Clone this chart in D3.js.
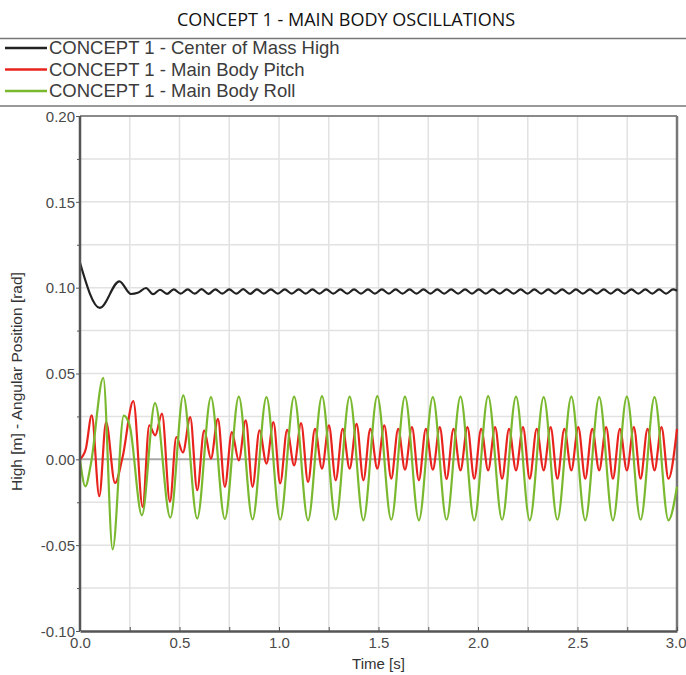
<!DOCTYPE html>
<html>
<head>
<meta charset="utf-8">
<script src="https://cdn.jsdelivr.net/npm/d3@7"></script>
<style>
  body { margin: 0; background: #fff; }
  svg { display: block; }
  .axis text { font-family: "Liberation Sans", Arial, sans-serif; font-size: 15px; fill: #4a4a4a; }
  .axis path, .axis line { stroke: #555; }
</style>
</head>
<body>
<div id="graph"></div>
<script>

// series names, in legend order
const seriesNames = ["CONCEPT 1 - Center of Mass High", "CONCEPT 1 - Main Body Pitch", "CONCEPT 1 - Main Body Roll"];
const seriesColors = ["#222222", "#e8231d", "#7ab92f"];

// [time (s), value]
const centerOfMassHigh = [
  [0, 0.1145], [0.100, 0.0882], [0.198, 0.1037], [0.256, 0.0963], [0.290, 0.0970],
  [0.332, 0.0998], [0.367, 0.0962], [0.402, 0.0988], [0.437, 0.0964],
  [0.471, 0.0990], [0.506, 0.0965], [0.541, 0.0990], [0.576, 0.0965], [0.611, 0.0991], [0.646, 0.0964],
  [0.680, 0.0990], [0.715, 0.0965], [0.750, 0.0990], [0.785, 0.0965], [0.820, 0.0991], [0.855, 0.0964],
  [0.889, 0.0990], [0.924, 0.0965], [0.959, 0.0990], [0.994, 0.0965], [1.029, 0.0990], [1.064, 0.0965],
  [1.099, 0.0990], [1.134, 0.0965], [1.168, 0.0990], [1.203, 0.0965], [1.238, 0.0990], [1.273, 0.0965],
  [1.308, 0.0990], [1.343, 0.0965], [1.377, 0.0990], [1.412, 0.0965], [1.447, 0.0990], [1.482, 0.0965],
  [1.517, 0.0990], [1.552, 0.0965], [1.586, 0.0990], [1.621, 0.0965], [1.656, 0.0990], [1.691, 0.0965],
  [1.726, 0.0990], [1.761, 0.0965], [1.795, 0.0990], [1.830, 0.0965], [1.865, 0.0990], [1.900, 0.0965],
  [1.935, 0.0990], [1.970, 0.0965], [2.004, 0.0990], [2.039, 0.0965], [2.074, 0.0990], [2.109, 0.0965],
  [2.144, 0.0990], [2.179, 0.0965], [2.214, 0.0990], [2.249, 0.0965], [2.283, 0.0990], [2.318, 0.0965],
  [2.353, 0.0990], [2.388, 0.0965], [2.423, 0.0990], [2.458, 0.0965], [2.492, 0.0990], [2.527, 0.0965],
  [2.562, 0.0990], [2.597, 0.0965], [2.632, 0.0990], [2.667, 0.0965], [2.701, 0.0990], [2.736, 0.0965],
  [2.771, 0.0990], [2.806, 0.0965], [2.841, 0.0990], [2.876, 0.0965], [2.910, 0.0990], [2.945, 0.0965],
  [2.980, 0.0990], [3.0, 0.0982]
];

const mainBodyPitch = [
  [0, 0], [0.029, 0.006], [0.059, 0.0256], [0.097, -0.0215], [0.131, 0.0217], [0.176, -0.0138],
  [0.214, 0.0013], [0.268, 0.0339], [0.315, -0.0277], [0.348, 0.0198], [0.378, 0.014], [0.412, 0.0266],
  [0.452, -0.0248], [0.484, 0.013],
  [0.517, 0.004], [0.554, 0.0246], [0.589, -0.018], [0.624, 0.0169],
  [0.658, 0.0004], [0.693, 0.0236], [0.728, -0.016], [0.763, 0.0159],
  [0.798, -0.0006], [0.833, 0.0227], [0.867, -0.016], [0.902, 0.0169],
  [0.937, -0.0025], [0.972, 0.0217], [1.006, -0.014], [1.041, 0.0172],
  [1.076, -0.0035], [1.111, 0.0211], [1.146, -0.0132], [1.181, 0.0178],
  [1.216, -0.0054], [1.251, 0.0198], [1.285, -0.0122], [1.320, 0.0178],
  [1.355, -0.0054], [1.390, 0.0207], [1.424, -0.0122], [1.459, 0.0178],
  [1.494, -0.0054], [1.529, 0.0198], [1.564, -0.0112], [1.599, 0.0178],
  [1.633, -0.006], [1.668, 0.0188], [1.703, -0.0122], [1.738, 0.0178],
  [1.773, -0.006], [1.808, 0.0188], [1.842, -0.0115], [1.877, 0.0178],
  [1.912, -0.0064], [1.947, 0.0188], [1.981, -0.0112], [2.016, 0.0178],
  [2.051, -0.0064], [2.086, 0.0188], [2.121, -0.0112], [2.156, 0.0178],
  [2.191, -0.0064], [2.226, 0.0188], [2.260, -0.0112], [2.295, 0.0178],
  [2.330, -0.0064], [2.365, 0.0188], [2.399, -0.0112], [2.434, 0.0178],
  [2.469, -0.0064], [2.504, 0.0188], [2.539, -0.0112], [2.574, 0.0178],
  [2.609, -0.0064], [2.644, 0.0188], [2.678, -0.0112], [2.713, 0.0178],
  [2.748, -0.0064], [2.783, 0.0188], [2.817, -0.0112], [2.852, 0.0178],
  [2.887, -0.0064], [2.922, 0.0188], [2.957, -0.0112], [3.0, 0.0178]
];

const mainBodyRoll = [
  [0, 0], [0.027, -0.0157], [0.055, -0.0025], [0.117, 0.0475], [0.164, -0.0525], [0.220, 0.0255],
  [0.250, 0.0195], [0.311, -0.0326], [0.377, 0.0327], [0.454, -0.034],
  [0.519, 0.0372], [0.589, -0.0345], [0.658, 0.0362], [0.728, -0.0348], [0.798, 0.0365], [0.867, -0.035],
  [0.937, 0.0362], [1.006, -0.0352], [1.076, 0.0365], [1.146, -0.0355], [1.216, 0.0368], [1.285, -0.0352],
  [1.355, 0.0365], [1.424, -0.0355], [1.494, 0.0368], [1.564, -0.0352], [1.633, 0.0365], [1.703, -0.0355],
  [1.773, 0.0362], [1.842, -0.0352], [1.912, 0.0365], [1.981, -0.0355], [2.051, 0.0368], [2.121, -0.0352],
  [2.191, 0.0365], [2.260, -0.0355], [2.330, 0.0362], [2.399, -0.0352], [2.469, 0.0365], [2.539, -0.0355],
  [2.609, 0.0362], [2.678, -0.0355], [2.748, 0.0365], [2.817, -0.0352], [2.887, 0.0362], [2.957, -0.0355],
  [3.0, -0.016]
];

const xTicks = [0, 0.5, 1.0, 1.5, 2.0, 2.5, 3.0];
const xMinorTicks = [0.25, 0.75, 1.25, 1.75, 2.25, 2.75];
const yTicks = [-0.10, -0.05, 0.00, 0.05, 0.10, 0.15, 0.20];
const yMinorTicks = [-0.075, -0.025, 0.025, 0.075, 0.125, 0.175];

const title = "CONCEPT 1 - MAIN BODY OSCILLATIONS";
const xTitle = "Time [s]";
const yTitle = "High [m] - Angular Position [rad]";

let width = 686, height = 675;
let margin = {top: 116, right: 9, bottom: 44, left: 80};

let svg = d3.select("#graph")
      .append("svg")
      .attr("width", width)
      .attr("height", height);

let x = d3.scaleLinear().domain([0, 3]).range([margin.left, width - margin.right]),
    y = d3.scaleLinear().domain([-0.1, 0.2]).range([height - margin.bottom, margin.top]);

// plain hyphen instead of the unicode minus d3.format gives
const fmt2 = function(d) { return d3.format(".2f")(d).replace("\u2212", "-"); };

// title and legend block
svg.append("text")
      .attr("x", 346)
      .attr("y", 26)
      .attr("text-anchor", "middle")
      .style("font-family", "'Open Sans', 'Noto Sans', sans-serif")
      .style("font-size", "18px")
      .style("fill", "#111")
      .text(title);

svg.append("line")
      .attr("x1", 0).attr("x2", width)
      .attr("y1", 38.5).attr("y2", 38.5)
      .attr("stroke", "#777").attr("stroke-width", 1.5);

svg.append("line")
      .attr("x1", 0).attr("x2", width)
      .attr("y1", 106).attr("y2", 106)
      .attr("stroke", "#777").attr("stroke-width", 1.5);

let legend = svg.append("g").attr("class", "legend");

seriesNames.forEach(function(name, i) {
      let ly = 48 + i * 21.5;
      legend.append("line")
            .attr("x1", 5).attr("x2", 47)
            .attr("y1", ly).attr("y2", ly)
            .attr("stroke", seriesColors[i])
            .attr("stroke-width", 2.5);
      legend.append("text")
            .attr("x", 49)
            .attr("y", ly + 6)
            .style("font-family", "'Liberation Sans', Arial, sans-serif")
            .style("font-size", "18.5px")
            .style("fill", "#3c3c3c")
            .text(name);
});

// grid
let grid = svg.append("g").attr("class", "grid");

grid.selectAll(".vgrid")
      .data(xTicks.concat(xMinorTicks).filter(function(d) { return d > 0 && d < 3; }))
      .enter().append("line")
      .attr("x1", function(d) { return x(d); })
      .attr("x2", function(d) { return x(d); })
      .attr("y1", y(0.2))
      .attr("y2", y(-0.1))
      .attr("stroke", "#e2e2e2")
      .attr("stroke-width", 1.5);

grid.selectAll(".hgrid")
      .data(yTicks.concat(yMinorTicks).filter(function(d) { return d > -0.1 && d < 0.2; }))
      .enter().append("line")
      .attr("x1", x(0))
      .attr("x2", x(3))
      .attr("y1", function(d) { return y(d); })
      .attr("y2", function(d) { return y(d); })
      .attr("stroke", function(d) { return Math.abs(d) < 1e-9 ? "#a8a8a8" : "#e2e2e2"; })
      .attr("stroke-width", function(d) { return Math.abs(d) < 1e-9 ? 2 : 1.5; });

// frame: top and right
svg.append("line")
      .attr("x1", x(0)).attr("x2", x(3))
      .attr("y1", y(0.2)).attr("y2", y(0.2))
      .attr("stroke", "#8a8a8a").attr("stroke-width", 2);

svg.append("line")
      .attr("x1", x(3)).attr("x2", x(3))
      .attr("y1", y(0.2)).attr("y2", y(-0.1))
      .attr("stroke", "#777").attr("stroke-width", 2.5);

// lines
let line = d3.line()
      .x(function(d) { return x(d[0]); })
      .y(function(d) { return y(d[1]); })
      .curve(d3.curveMonotoneX);

[centerOfMassHigh, mainBodyPitch, mainBodyRoll].forEach(function(series, i) {
      svg.append("path")
            .datum(series)
            .attr("fill", "none")
            .attr("stroke", seriesColors[i])
            .attr("stroke-width", 2.2)
            .attr("stroke-linejoin", "round")
            .attr("d", line);
});

// axes
let yAxis = d3.axisLeft(y)
      .tickValues(yTicks)
      .tickFormat(fmt2)
      .tickSize(4)
      .tickPadding(1);

let yMinor = d3.axisLeft(y)
      .tickValues(yMinorTicks)
      .tickFormat("")
      .tickSize(3);

let xAxis = d3.axisBottom(x)
      .tickValues(xTicks)
      .tickFormat(d3.format(".1f"))
      .tickSizeInner(-4)
      .tickSizeOuter(0)
      .tickPadding(6);

let xMinor = d3.axisBottom(x)
      .tickValues(xMinorTicks)
      .tickFormat("")
      .tickSizeInner(-4)
      .tickSizeOuter(0);

svg.append("g")
      .attr("class", "axis")
      .attr("transform", "translate(" + x(0) + ",0)")
      .call(yMinor)
      .call(function(g) { g.select(".domain").remove(); });

svg.append("g")
      .attr("class", "axis")
      .attr("transform", "translate(" + x(0) + ",0)")
      .call(yAxis)
      .call(function(g) { g.select(".domain").attr("stroke-width", 2.5).attr("d", "M0," + y(0.2) + "V" + y(-0.1)); })
      .call(function(g) { g.selectAll("text").attr("dy", "0.35em"); });

svg.append("g")
      .attr("class", "axis")
      .attr("transform", "translate(0," + y(-0.1) + ")")
      .call(xMinor)
      .call(function(g) { g.select(".domain").remove(); });

svg.append("g")
      .attr("class", "axis")
      .attr("transform", "translate(0," + y(-0.1) + ")")
      .call(xAxis)
      .call(function(g) { g.select(".domain").attr("stroke-width", 2.5); })
      // keep the last label inside the window
      .call(function(g) { g.selectAll(".tick text").filter(function(d) { return d === 3; }).attr("text-anchor", "end").attr("dx", "9px"); });

// axis titles
svg.append("text")
      .attr("x", (x(0) + x(3)) / 2)
      .attr("y", 669)
      .attr("text-anchor", "middle")
      .style("font-family", "'Liberation Sans', Arial, sans-serif")
      .style("font-size", "15px")
      .style("fill", "#333")
      .text(xTitle);

svg.append("text")
      .attr("transform", "translate(22," + ((y(0.2) + y(-0.1)) / 2 + 8) + ") rotate(-90)")
      .attr("text-anchor", "middle")
      .style("font-family", "'Liberation Sans', Arial, sans-serif")
      .style("font-size", "15.5px")
      .style("fill", "#333")
      .text(yTitle);

</script>
</body>
</html>
